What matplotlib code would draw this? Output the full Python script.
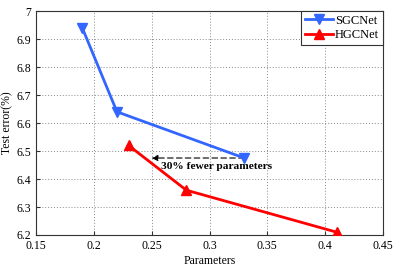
import matplotlib.pyplot as plt

# ─── Data ─────────────────────────────────────────────────────────────────────

sgc_params = [0.19, 0.22, 0.33]
sgc_error  = [6.94, 6.64, 6.475]

hgc_params = [0.23, 0.28, 0.41]
hgc_error  = [6.52, 6.36, 6.21]

x_ticks = [0.15, 0.2, 0.25, 0.3, 0.35, 0.4, 0.45]
y_ticks = [6.2, 6.3, 6.4, 6.5, 6.6, 6.7, 6.8, 6.9, 7]

# ─── Plot ─────────────────────────────────────────────────────────────────────

plt.rcParams["font.family"] = ["Liberation Serif", "DejaVu Serif"]

fig = plt.figure(figsize=(3.99, 2.69), dpi=100)
ax = fig.add_axes([0.0902, 0.1264, 0.8698, 0.8326])

ax.plot(sgc_params, sgc_error, color="#3366ff", linewidth=2,
        marker="v", markersize=7, label="SGCNet", zorder=3)
ax.plot(hgc_params, hgc_error, color="#ff0000", linewidth=2,
        marker="^", markersize=7, label="HGCNet", zorder=3)

# dashed arrow: 30% fewer parameters
ax.annotate("", xy=(0.25, 6.475), xytext=(0.33, 6.475),
            arrowprops=dict(arrowstyle="-|>", linestyle=(0, (5, 3)),
                            color="black", lw=0.8, mutation_scale=9,
                            shrinkA=0, shrinkB=0), zorder=2)
ax.text(0.306, 6.443, "30% fewer parameters", fontsize=8.2,
        fontweight="bold", ha="center", va="center")

ax.set_xlim(0.15, 0.45)
ax.set_ylim(6.2, 7)
ax.set_xticks(x_ticks)
ax.set_yticks(y_ticks)
ax.set_xticklabels([f"{v:g}" for v in x_ticks])
ax.set_yticklabels([f"{v:g}" for v in y_ticks])
ax.tick_params(direction="in", labelsize=8.5, length=3, color="#333333")

ax.grid(True, linestyle=(0, (1, 2)), color="#888888", linewidth=0.7)
for spine in ax.spines.values():
    spine.set_edgecolor("#333333")
    spine.set_linewidth(0.8)

ax.set_xlabel("Parameters", fontsize=8.5, labelpad=2)
ax.set_ylabel("Test error(%)", fontsize=8.5, labelpad=2)

leg = ax.legend(loc="upper right", fontsize=9, fancybox=False,
                framealpha=1, edgecolor="#333333", borderaxespad=0,
                handlelength=2.2, handletextpad=0.2, borderpad=0.3,
                labelspacing=0.2)
leg.get_frame().set_linewidth(0.8)

fig.savefig("out.png", dpi=100)
